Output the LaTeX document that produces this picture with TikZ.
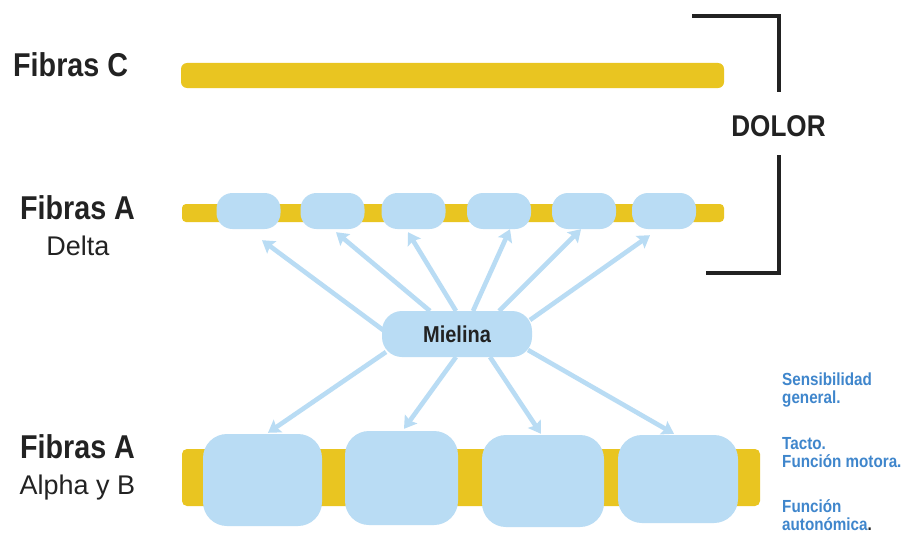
\documentclass[tikz,border=0pt]{standalone}
\usepackage{fontspec}
\setmainfont{Liberation Sans}
\newfontfamily\condfont[FakeStretch=0.87]{Liberation Sans}
\usetikzlibrary{arrows.meta}
\definecolor{fibra}{RGB}{233,197,33}
\definecolor{mielina}{RGB}{185,220,244}
\definecolor{nota}{RGB}{63,134,204}
\definecolor{marco}{RGB}{34,34,34}
\tikzset{
  bar/.style={fill=fibra, draw=none},
  vaina/.style={fill=mielina, draw=none, rectangle, rounded corners=#1, inner sep=0pt},
  titulo/.style={font=\condfont\bfseries\fontsize{33}{36}\selectfont, inner sep=0pt, text=marco},
  subtitulo/.style={font=\fontsize{27}{30}\selectfont, inner sep=0pt, text=marco},
  nota/.style={font=\condfont\bfseries\fontsize{17.5}{18}\selectfont, inner sep=0pt,
               text=nota, align=left, anchor=base west},
  flecha/.style={draw=mielina, line width=4.6pt,
                 -{Stealth[length=12pt,width=15pt,inset=2pt]}},
  corchete/.style={draw=marco, line width=3.2pt, line join=miter}
}
\begin{document}
\begin{tikzpicture}[x=1pt,y=-1pt]
  \fill[white] (0,0) rectangle (904,551);
  \useasboundingbox (0,0) rectangle (904,551);

  % fibre labels
  \node[titulo, anchor=base west] (tC) at (13,76) {Fibras C};
  \node[titulo, anchor=base] (tAd) at (77.5,219) {Fibras A};
  \node[subtitulo, anchor=base] (sAd) at (78,255) {Delta};
  \node[titulo, anchor=base] (tAa) at (77.5,458) {Fibras A};
  \node[subtitulo, anchor=base] (sAa) at (77.5,494) {Alpha y B};

  % axons
  \fill[bar, rounded corners=6pt] (181,63) rectangle (724,88);
  \fill[bar, rounded corners=4pt] (182,204) rectangle (724,222);
  \fill[bar, rounded corners=5pt] (182,449) rectangle (760,506);

  % thin myelin sheaths (A delta)
  \foreach \n/\cx in {1/248.5, 2/332.5, 3/413.5, 4/499, 5/584, 6/664}
    \node[vaina=16pt, minimum width=64pt, minimum height=36pt] (d\n) at (\cx,211) {};

  % thick myelin sheaths (A alpha / B)
  \node[vaina=24pt, minimum width=119pt, minimum height=92pt] (b1) at (262.5,480) {};
  \node[vaina=24pt, minimum width=113pt, minimum height=94pt] (b2) at (401.5,478) {};
  \node[vaina=24pt, minimum width=122pt, minimum height=92pt] (b3) at (543,481) {};
  \node[vaina=24pt, minimum width=120pt, minimum height=88pt] (b4) at (678,479) {};

  % myelin label
  \node[vaina=20pt, minimum width=150pt, minimum height=46pt,
        font=\condfont\bfseries\fontsize{23}{25}\selectfont, text=marco] (mie) at (457,334) {Mielina};

  % pointers from the label to the sheaths
  \draw[flecha] ([shift={(-74,-4)}]mie.center) -- ([shift={(13.5,11)}]d1.south);
  \draw[flecha] ([shift={(-27,-23)}]mie.center) -- ([shift={(3.5,3)}]d2.south);
  \draw[flecha] ([shift={(-1,-23)}]mie.center) -- ([shift={(-5.5,3)}]d3.south);
  \draw[flecha] ([shift={(16,-23)}]mie.center) -- ([shift={(11,0)}]d4.south);
  \draw[flecha] ([shift={(42,-23)}]mie.center) -- ([shift={(-3,0)}]d5.south);
  \draw[flecha] ([shift={(73,-14)}]mie.center) -- ([shift={(-14,6)}]d6.south);

  \draw[flecha] ([shift={(-71,18)}]mie.center) -- ([shift={(5.5,-1)}]b1.north);
  \draw[flecha] ([shift={(-1,23)}]mie.center) -- ([shift={(2.5,-2)}]b2.north);
  \draw[flecha] ([shift={(33,23)}]mie.center) -- ([shift={(-2,-1)}]b3.north);
  \draw[flecha] ([shift={(71,16)}]mie.center) -- ([shift={(-4,-1)}]b4.north);

  % pain bracket
  \node[font=\condfont\bfseries\fontsize{30}{32}\selectfont, inner sep=0pt, text=marco] (dolor) at (778.5,126) {DOLOR};
  \draw[corchete] (692,16) -- (779,16) -- (779,92);
  \draw[corchete] (779,155) -- (779,273) -- (706,273);

  % functions
  \node[nota] (f1) at (782,403) {Sensibilidad\\general.};
  \node[nota] (f2) at (782,467) {Tacto.\\Función motora.};
  \node[nota] (f3) at (782,530) {Función\\autonómica{\color{marco}.}};
\end{tikzpicture}
\end{document}
